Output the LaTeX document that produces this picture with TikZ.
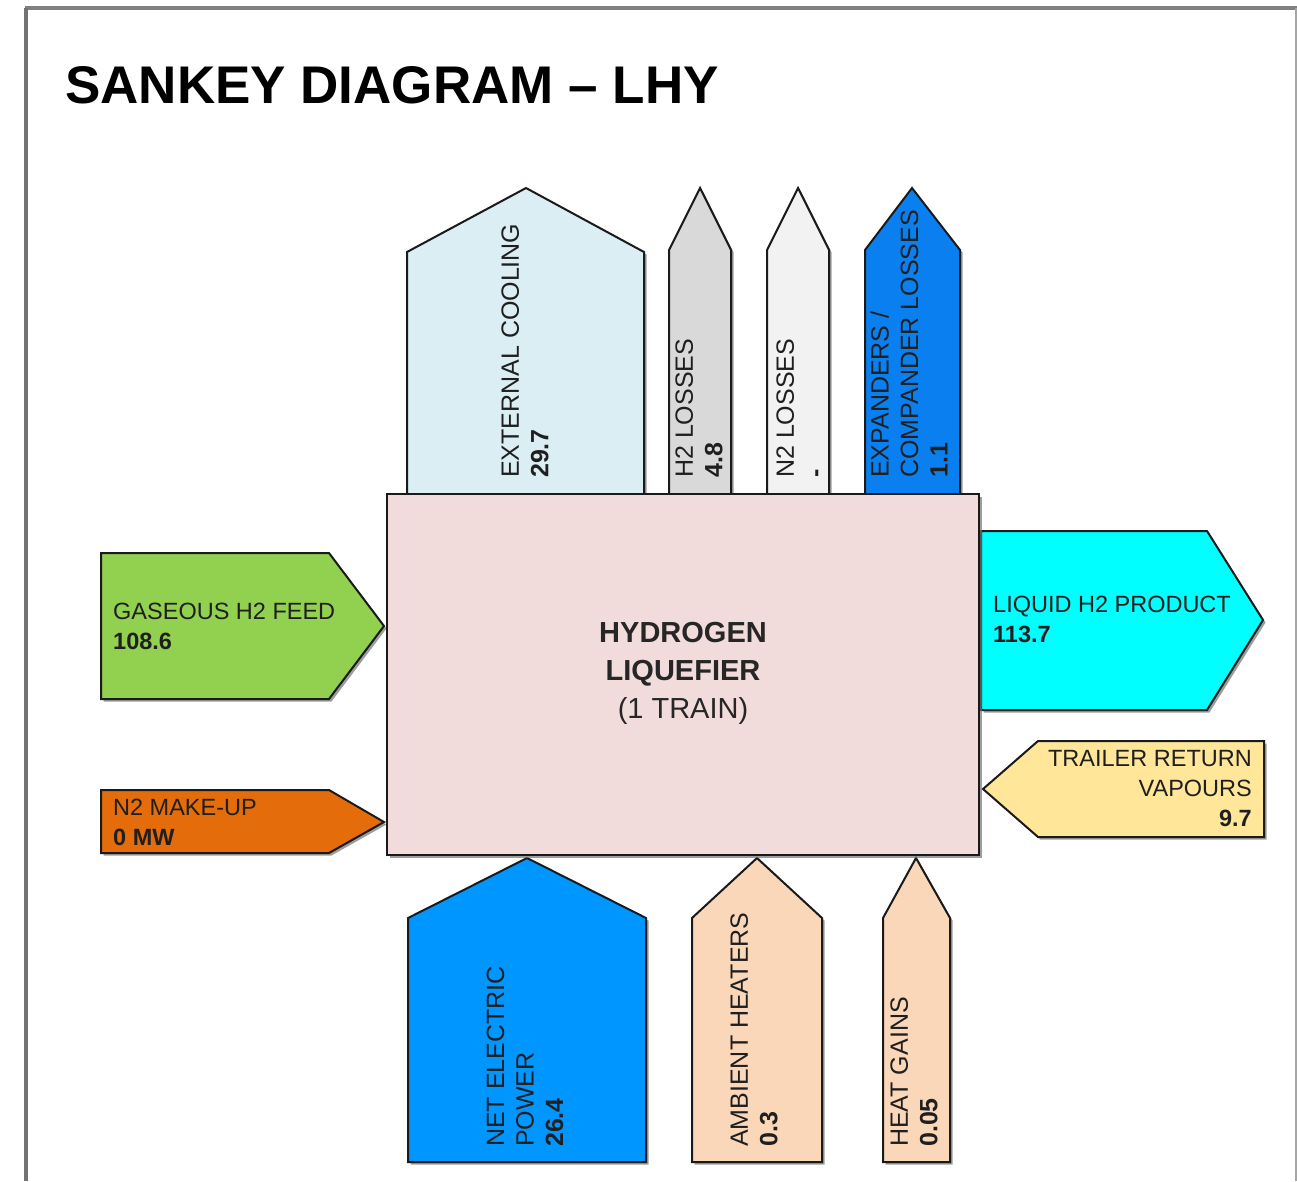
\documentclass[tikz,border=0pt]{standalone}
\usepackage{fontspec}
\setmainfont{Liberation Sans}
\usepackage{tikz}
\usetikzlibrary{shadows}
\definecolor{framegray}{HTML}{808080}
\definecolor{edgedark}{HTML}{1A1A1A}
\definecolor{liqpink}{HTML}{F2DCDB}
\definecolor{coolblue}{HTML}{DAEEF3}
\definecolor{lossgray}{HTML}{D9D9D9}
\definecolor{lossgraylt}{HTML}{F2F2F2}
\definecolor{compblue}{HTML}{0A80F0}
\definecolor{powerblue}{HTML}{0096FF}
\definecolor{feedgreen}{HTML}{92D050}
\definecolor{makeorange}{HTML}{E46C0A}
\definecolor{prodcyan}{HTML}{00FFFF}
\definecolor{vapyellow}{HTML}{FFE699}
\definecolor{heatpeach}{HTML}{FAD7B8}
\tikzset{
every picture/.style={line join=miter},
flow shape/.style={
  draw=edgedark,
  line width=2pt,
  drop shadow={shadow xshift=2.5pt, shadow yshift=-2.5pt, fill=black!55, opacity=0.7}
},
flow text/.style={
  inner sep=0pt,
  text=black!88,
  font=\fontsize{23.5}{30}\selectfont
},
up text/.style={flow text, rotate=90, anchor=west, align=left, font=\fontsize{25}{29.5}\selectfont},
title text/.style={inner sep=0pt, font=\fontsize{53}{60}\selectfont\bfseries},
core text/.style={inner sep=0pt, align=center, text=black!85, font=\fontsize{29}{38}\selectfont}
}
\begin{document}
\begin{tikzpicture}[x=1pt,y=-1pt]
\useasboundingbox (0,0) rectangle (1297,1181);
% frame
\draw[framegray, line width=4pt] (25,8) -- (1297,8);
\draw[framegray!90!black, line width=3.5pt] (26,8) -- (26,1181);
\draw[framegray!70, line width=1.5pt] (1296,8) -- (1296,1181);
\node[title text, anchor=base west] (title) at (65,103) {SANKEY DIAGRAM – LHY};
% outgoing (top)
\path[flow shape, fill=coolblue] (407,494) -- (407,252) -- (526,188) -- (644,252) -- (644,494) -- cycle;
\path[flow shape, fill=lossgray] (669,494) -- (669,250) -- (700,188) -- (731,250) -- (731,494) -- cycle;
\path[flow shape, fill=lossgraylt] (767,494) -- (767,250) -- (798,188) -- (829,250) -- (829,494) -- cycle;
\path[flow shape, fill=compblue] (865,494) -- (865,250) -- (912,188) -- (960,250) -- (960,494) -- cycle;
% inputs (left)
\path[flow shape, fill=feedgreen] (101,553) -- (329,553) -- (384,626) -- (329,699) -- (101,699) -- cycle;
\path[flow shape, fill=makeorange] (101,790) -- (329,790) -- (384,822) -- (329,853) -- (101,853) -- cycle;
% right side
\path[flow shape, fill=prodcyan] (981,531) -- (1207,531) -- (1263,620) -- (1207,710) -- (981,710) -- cycle;
\path[flow shape, fill=vapyellow] (1264,741) -- (1038,741) -- (983,789) -- (1038,837) -- (1264,837) -- cycle;
% inputs (bottom)
\path[flow shape, fill=powerblue] (408,1162) -- (408,918) -- (527,858) -- (646,918) -- (646,1162) -- cycle;
\path[flow shape, fill=heatpeach] (692,1162) -- (692,918) -- (757,858) -- (822,918) -- (822,1162) -- cycle;
\path[flow shape, fill=heatpeach] (883,1162) -- (883,918) -- (916,858) -- (950,918) -- (950,1162) -- cycle;
% liquefier
\path[flow shape, fill=liqpink] (387,494) rectangle (979,855);
\node[core text] (liquefier) at (683,673) {\textbf{HYDROGEN}\\\textbf{LIQUEFIER}\\(1 TRAIN)};
% labels
\node[up text] (cooling) at (525,478) {EXTERNAL COOLING\\\textbf{29.7}};
\node[up text] (hloss) at (699,478) {H2 LOSSES\\\textbf{4.8}};
\node[up text] (nloss) at (800,478) {N2 LOSSES\\\textbf{-}};
\node[up text] (expand) at (909,478) {EXPANDERS /\\COMPANDER LOSSES\\\textbf{1.1}};
\node[flow text, anchor=west, align=left] (feed) at (113,626) {GASEOUS H2 FEED\\\textbf{108.6}};
\node[flow text, anchor=west, align=left] (makeup) at (113,822) {N2 MAKE-UP\\\textbf{0 MW}};
\node[flow text, anchor=west, align=left] (product) at (993,619) {LIQUID H2 PRODUCT\\\textbf{113.7}};
\node[flow text, anchor=east, align=right] (vapours) at (1252,789) {TRAILER RETURN\\VAPOURS\\\textbf{9.7}};
\node[up text] (power) at (525,1147) {NET ELECTRIC\\POWER\\\textbf{26.4}};
\node[up text] (ambient) at (754,1147) {AMBIENT HEATERS\\\textbf{0.3}};
\node[up text] (gains) at (914,1147) {HEAT GAINS\\\textbf{0.05}};
\end{tikzpicture}
\end{document}
